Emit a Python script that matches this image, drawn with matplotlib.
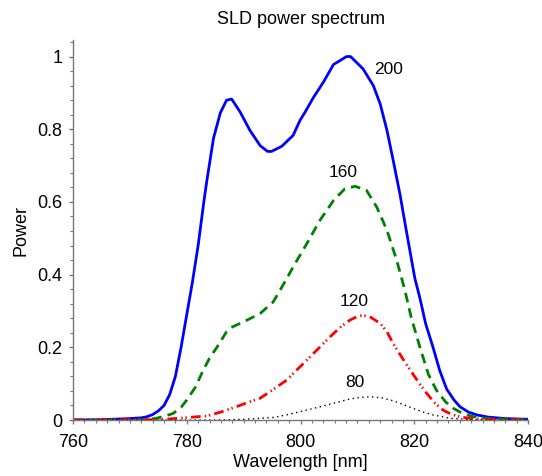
import matplotlib
matplotlib.use("Agg")
import matplotlib.pyplot as plt
from matplotlib.ticker import MultipleLocator

plt.rcParams['font.family'] = ['Liberation Sans', 'DejaVu Sans']

# === DATOS ===
wl_200 = [760, 765, 770, 772, 773, 774, 775, 776, 777, 778, 779, 780, 781, 782, 783, 783.5,
          784.7, 785.9, 787.0, 787.9, 789.4, 791.1, 792.9, 794.2, 794.9, 796.7, 798.7, 799.9,
          800.8, 802.3, 804.0, 805.8, 808.1, 808.8, 811.0, 812.8, 814.0, 815.2, 816.3, 817.5,
          818.5, 819.3, 820.1, 821.0, 822.0, 823.3, 824.5, 825.7, 827.0, 828.0, 829.5, 831.0,
          833.0, 836.0, 840.0]
p_200 = [0.0, 0.001, 0.004, 0.006, 0.009, 0.015, 0.025, 0.04, 0.07, 0.12, 0.2, 0.29, 0.38,
         0.48, 0.6, 0.655, 0.775, 0.845, 0.88, 0.883, 0.847, 0.797, 0.755, 0.739, 0.739,
         0.753, 0.783, 0.824, 0.847, 0.888, 0.929, 0.978, 1.0, 1.0, 0.966, 0.92, 0.87, 0.797,
         0.714, 0.62, 0.53, 0.46, 0.39, 0.335, 0.265, 0.2, 0.135, 0.085, 0.055, 0.037, 0.022,
         0.014, 0.008, 0.004, 0.002]

wl_160 = [760, 770, 773, 774.7, 776, 777.6, 779, 780, 781.5, 782.9, 784, 785.3, 787.0, 788,
          789.4, 791, 792.9, 795.2, 796.4, 797.6, 798.7, 801.1, 803.4, 805.8, 807.8, 809.6,
          811.6, 813.4, 815.2, 816.9, 818.3, 819.5, 821.0, 822.5, 823.9, 825.5, 826.9, 828.5,
          830.4, 833, 836, 840]
p_160 = [0.0, 0.0, 0.001, 0.005, 0.01, 0.018, 0.035, 0.055, 0.09, 0.137, 0.17, 0.2, 0.243,
         0.256, 0.266, 0.278, 0.293, 0.325, 0.357, 0.39, 0.421, 0.485, 0.549, 0.604, 0.636,
         0.643, 0.632, 0.586, 0.522, 0.44, 0.36, 0.28, 0.2, 0.125, 0.082, 0.05, 0.032, 0.018,
         0.009, 0.004, 0.002, 0.001]

wl_120 = [760, 775, 778.8, 781, 783.5, 786, 788.8, 790.5, 792.9, 795, 797.6, 799.5, 801.7,
          803.8, 805.8, 807.3, 808.7, 810, 811, 812.3, 814.0, 815.2, 816.3, 817.8, 819.3,
          820.8, 822.2, 823.6, 825.1, 826.5, 828, 830, 833, 836, 840]
p_120 = [0.0, 0.001, 0.005, 0.008, 0.011, 0.022, 0.037, 0.047, 0.06, 0.082, 0.11, 0.14,
         0.174, 0.207, 0.238, 0.259, 0.275, 0.285, 0.288, 0.283, 0.266, 0.243, 0.21, 0.173,
         0.137, 0.103, 0.073, 0.047, 0.027, 0.016, 0.009, 0.004, 0.002, 0.001, 0.0]

wl_80 = [760, 785, 790, 795.2, 797.5, 799.9, 802.3, 804.6, 806.7, 808.7, 810.5, 812.2, 814.3,
         816.3, 818, 819.8, 821.5, 823.3, 826.3, 830, 835, 840]
p_80 = [0.0, 0.0, 0.002, 0.007, 0.014, 0.023, 0.032, 0.041, 0.05, 0.058, 0.062, 0.064, 0.061,
        0.053, 0.043, 0.032, 0.022, 0.014, 0.005, 0.001, 0.0, 0.0]

# etiquetas de corriente (mA) y su posicion
curr_labels = ["200", "160", "120", "80"]
label_x = [815.5, 807.5, 809.5, 809.6]
label_y = [0.965, 0.681, 0.325, 0.102]

fig = plt.figure(figsize=(5.42, 4.76), dpi=100)
ax = fig.add_axes([0.1347, 0.1176, 0.8395, 0.798])

ax.plot(wl_200, p_200, color="#0000ff", lw=2.0, ls="-")
ax.plot(wl_160, p_160, color="#008000", lw=2.0, ls=(0, (3.5, 2.2)))
ax.plot(wl_120, p_120, color="#ff0000", lw=2.0, ls=(0, (3.5, 1.5, 0.5, 1.0, 0.5, 1.5)))
ax.plot(wl_80, p_80, color="black", lw=1.0, ls=(0, (1, 2.5)))

for t, x, y in zip(curr_labels, label_x, label_y):
    ax.text(x, y, t, ha="center", va="center", fontsize=12.5)

ax.set_xlim(760, 840)
ax.set_ylim(0, 1.045)
ax.set_xticks([760, 780, 800, 820, 840])
ax.set_yticks([0, 0.2, 0.4, 0.6, 0.8, 1])
ax.set_yticklabels(["0", "0.2", "0.4", "0.6", "0.8", "1"])
ax.xaxis.set_minor_locator(MultipleLocator(2))
ax.yaxis.set_minor_locator(MultipleLocator(0.04))

for s in ["top", "right"]:
    ax.spines[s].set_visible(False)
for s in ["left", "bottom"]:
    ax.spines[s].set_color("#777777")
    ax.spines[s].set_linewidth(1.0)

ax.tick_params(which="major", direction="out", length=3, width=1, color="#777777",
               labelsize=13)
ax.tick_params(axis="x", which="major", pad=7)
ax.tick_params(axis="y", which="major", pad=4.5)
ax.tick_params(which="minor", direction="out", length=2, width=0.8, color="#777777")

ax.set_xlabel("Wavelength [nm]", fontsize=13, labelpad=2)
ax.set_ylabel("Power", fontsize=13, labelpad=6)
ax.set_title("SLD power spectrum", fontsize=13, pad=12)

fig.savefig("out.png", dpi=100)
